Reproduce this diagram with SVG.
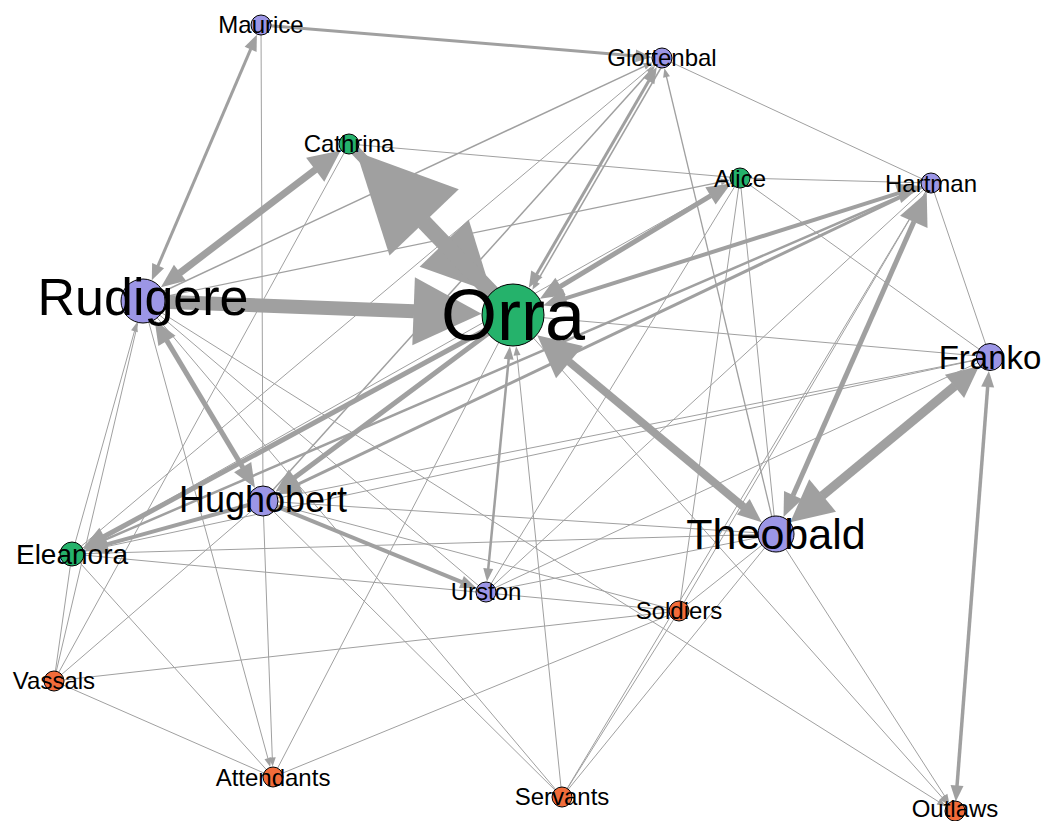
<svg xmlns="http://www.w3.org/2000/svg" width="1044" height="821" viewBox="0 0 1044 821">
<style>
.e line{stroke:#A0A0A0;fill:none;stroke-width:1}
.mk{fill:#A0A0A0;stroke:none}
.p{fill:#9C96E6;stroke:#000;stroke-width:1}
.g{fill:#25B26B;stroke:#000;stroke-width:1}
.o{fill:#F26C3A;stroke:#000;stroke-width:1}
.t{font-family:"Liberation Sans",Arial,sans-serif;text-anchor:middle;fill:#000}
</style>
<defs>
<marker id="m1" markerUnits="userSpaceOnUse" markerWidth="10" markerHeight="10" refX="0.5" refY="0" orient="auto-start-reverse" overflow="visible"><path class="mk" d="M0,-3.5 L9,0 L0,3.5 z"/></marker>
<marker id="m15" markerUnits="userSpaceOnUse" markerWidth="10" markerHeight="10" refX="0.5" refY="0" orient="auto-start-reverse" overflow="visible"><path class="mk" d="M0,-5 L13,0 L0,5 z"/></marker>
<marker id="m2" markerUnits="userSpaceOnUse" markerWidth="10" markerHeight="10" refX="0.5" refY="0" orient="auto-start-reverse" overflow="visible"><path class="mk" d="M0,-6.5 L16,0 L0,6.5 z"/></marker>
<marker id="m3" markerUnits="userSpaceOnUse" markerWidth="10" markerHeight="10" refX="0.5" refY="0" orient="auto-start-reverse" overflow="visible"><path class="mk" d="M0,-10 L24,0 L0,10 z"/></marker>
<marker id="m4" markerUnits="userSpaceOnUse" markerWidth="10" markerHeight="10" refX="0.5" refY="0" orient="auto-start-reverse" overflow="visible"><path class="mk" d="M0,-15 L32,0 L0,15 z"/></marker>
<marker id="m5" markerUnits="userSpaceOnUse" markerWidth="10" markerHeight="10" refX="0.5" refY="0" orient="auto-start-reverse" overflow="visible"><path class="mk" d="M0,-21 L42,0 L0,21 z"/></marker>
<marker id="m6" markerUnits="userSpaceOnUse" markerWidth="10" markerHeight="10" refX="0.5" refY="0" orient="auto-start-reverse" overflow="visible"><path class="mk" d="M0,-34 L68,0 L0,34 z"/></marker>
<marker id="m7" markerUnits="userSpaceOnUse" markerWidth="10" markerHeight="10" refX="0.5" refY="0" orient="auto-start-reverse" overflow="visible"><path class="mk" d="M0,-48 L98,0 L0,48 z"/></marker>
</defs>
<rect width="1044" height="821" fill="#fff"/>
<g id="edges" class="e">
<line x1="349" y1="144" x2="740" y2="178"/>
<line x1="740" y1="178" x2="931" y2="183"/>
<line x1="662" y1="58" x2="931" y2="183"/>
<line x1="72" y1="554" x2="662" y2="58"/>
<line x1="54" y1="681" x2="143" y2="301"/>
<line x1="143" y1="301" x2="486" y2="592"/>
<line x1="143" y1="301" x2="562" y2="797"/>
<line x1="263" y1="501" x2="562" y2="797"/>
<line x1="486" y1="592" x2="740" y2="178"/>
<line x1="486" y1="592" x2="931" y2="183"/>
<line x1="486" y1="592" x2="990" y2="357"/>
<line x1="486" y1="592" x2="776" y2="534"/>
<line x1="72" y1="554" x2="679" y2="611"/>
<line x1="263" y1="501" x2="990" y2="357"/>
<line x1="72" y1="554" x2="990" y2="357"/>
<line x1="72" y1="554" x2="776" y2="534"/>
<line x1="263" y1="501" x2="776" y2="534"/>
<line x1="263" y1="501" x2="679" y2="611"/>
<line x1="54" y1="681" x2="679" y2="611"/>
<line x1="54" y1="681" x2="72" y2="554"/>
<line x1="54" y1="681" x2="263" y2="501"/>
<line x1="54" y1="681" x2="349" y2="144"/>
<line x1="54" y1="681" x2="273" y2="777"/>
<line x1="72" y1="554" x2="273" y2="777"/>
<line x1="513" y1="315" x2="273" y2="777"/>
<line x1="273" y1="777" x2="679" y2="611"/>
<line x1="740" y1="178" x2="679" y2="611"/>
<line x1="740" y1="178" x2="776" y2="534"/>
<line x1="740" y1="178" x2="990" y2="357"/>
<line x1="740" y1="178" x2="72" y2="554"/>
<line x1="931" y1="183" x2="990" y2="357"/>
<line x1="679" y1="611" x2="776" y2="534"/>
<line x1="679" y1="611" x2="931" y2="183"/>
<line x1="562" y1="797" x2="679" y2="611"/>
<line x1="562" y1="797" x2="776" y2="534"/>
<line x1="562" y1="797" x2="931" y2="183"/>
<line x1="513" y1="315" x2="990" y2="357"/>
<line x1="261" y1="25" x2="263" y2="501"/>
<line x1="143" y1="301" x2="644.8" y2="66.1" style="stroke-width:1.5" marker-end="url(#m1)"/>
<line x1="143" y1="301" x2="721.4" y2="181.8" style="stroke-width:1.2" marker-end="url(#m1)"/>
<line x1="776" y1="534" x2="666.4" y2="76.5" style="stroke-width:1.3" marker-end="url(#m1)"/>
<line x1="263" y1="501" x2="649.3" y2="72.1" style="stroke-width:1.5" marker-end="url(#m1)"/>
<line x1="72" y1="554" x2="134.6" y2="330.8" marker-end="url(#m1)"/>
<line x1="143" y1="301" x2="268" y2="758.7" marker-end="url(#m1)"/>
<line x1="143" y1="301" x2="938.9" y2="801.9" marker-end="url(#m1)"/>
<line x1="263" y1="501" x2="272.3" y2="758" marker-end="url(#m1)"/>
<line x1="562" y1="797" x2="517" y2="354.8" marker-end="url(#m1)"/>
<line x1="776" y1="534" x2="944.7" y2="796" marker-end="url(#m1)"/>
<line x1="513" y1="315" x2="942.4" y2="797.8" marker-end="url(#m1)"/>
<line x1="665.5" y1="60" x2="536.6" y2="282.4" style="stroke-width:1.5" marker-end="url(#m1)"/>
<line x1="508.7" y1="358.8" x2="488.2" y2="569.1" style="stroke-width:2.5" marker-start="url(#m15)" marker-end="url(#m15)"/>
<line x1="931" y1="183" x2="97.7" y2="542.9" style="stroke-width:2.5" marker-end="url(#m2)"/>
<line x1="931" y1="183" x2="298.2" y2="484.2" style="stroke-width:3" marker-end="url(#m3)"/>
<line x1="263" y1="501" x2="461.9" y2="582.2" style="stroke-width:4" marker-end="url(#m2)"/>
<line x1="263" y1="501" x2="106.7" y2="544.4" style="stroke-width:4" marker-end="url(#m3)"/>
<line x1="513" y1="315" x2="103.7" y2="536.8" style="stroke-width:5" marker-end="url(#m3)"/>
<line x1="513" y1="315" x2="294.3" y2="477.7" style="stroke-width:5" marker-end="url(#m3)"/>
<line x1="166.7" y1="340.4" x2="242.9" y2="467.6" style="stroke-width:5" marker-start="url(#m3)" marker-end="url(#m3)"/>
<line x1="987.7" y1="386.4" x2="957" y2="786.1" style="stroke-width:3.5" marker-start="url(#m2)" marker-end="url(#m2)"/>
<line x1="261" y1="25" x2="636.1" y2="55.9" style="stroke-width:3" marker-end="url(#m2)"/>
<line x1="157.9" y1="266.1" x2="250.8" y2="48.9" style="stroke-width:3" marker-start="url(#m2)" marker-end="url(#m2)"/>
<line x1="536.6" y1="274.3" x2="649" y2="80.5" style="stroke-width:3" marker-start="url(#m2)" marker-end="url(#m2)"/>
<line x1="560.1" y1="286.6" x2="710.9" y2="195.6" style="stroke-width:5" marker-start="url(#m3)" marker-end="url(#m3)"/>
<line x1="565.5" y1="298.4" x2="898.6" y2="193.2" style="stroke-width:4" marker-start="url(#m3)" marker-end="url(#m3)"/>
<line x1="793" y1="495.6" x2="914" y2="221.4" style="stroke-width:5" marker-start="url(#m3)" marker-end="url(#m4)"/>
<line x1="822.2" y1="495.8" x2="954.9" y2="386" style="stroke-width:9" marker-start="url(#m5)" marker-end="url(#m4)"/>
<line x1="569.1" y1="361.7" x2="743.7" y2="507.1" style="stroke-width:8" marker-start="url(#m5)" marker-end="url(#m3)"/>
<line x1="179.6" y1="273.1" x2="315.6" y2="169.5" style="stroke-width:7" marker-start="url(#m3)" marker-end="url(#m4)"/>
<line x1="143" y1="301" x2="414.1" y2="311.3" style="stroke-width:14" marker-end="url(#m6)"/>
<line x1="349" y1="144" x2="444.5" y2="243.5" style="stroke-width:10" marker-end="url(#m6)"/>
<line x1="513" y1="315" x2="423.8" y2="222" style="stroke-width:16" marker-end="url(#m7)"/>
</g>
<g id="node-Maurice"><circle class="p" cx="261" cy="25" r="10"/><text class="t" x="261" y="33" font-size="24">Maurice</text></g>
<g id="node-Glottenbal"><circle class="p" cx="662" cy="58" r="10"/><text class="t" x="662" y="66" font-size="24">Glottenbal</text></g>
<g id="node-Cathrina"><circle class="g" cx="349" cy="144" r="10"/><text class="t" x="349" y="152" font-size="24">Cathrina</text></g>
<g id="node-Alice"><circle class="g" cx="740" cy="178" r="10"/><text class="t" x="740" y="187" font-size="24">Alice</text></g>
<g id="node-Hartman"><circle class="p" cx="931" cy="183" r="10"/><text class="t" x="931" y="192" font-size="24">Hartman</text></g>
<g id="node-Rudigere"><circle class="p" cx="143" cy="301" r="22"/><text class="t" x="143" y="315" font-size="52">Rudigere</text></g>
<g id="node-Orra"><circle class="g" cx="513" cy="315" r="31"/><text class="t" x="513" y="340" font-size="72">Orra</text></g>
<g id="node-Franko"><circle class="p" cx="990" cy="357" r="13.5"/><text class="t" x="990" y="369" font-size="33">Franko</text></g>
<g id="node-Hughobert"><circle class="p" cx="263" cy="501" r="15"/><text class="t" x="263" y="512" font-size="36">Hughobert</text></g>
<g id="node-Theobald"><circle class="p" cx="776" cy="534" r="18"/><text class="t" x="776" y="549" font-size="43">Theobald</text></g>
<g id="node-Eleanora"><circle class="g" cx="72" cy="554" r="12"/><text class="t" x="72" y="564" font-size="28">Eleanora</text></g>
<g id="node-Urston"><circle class="p" cx="486" cy="592" r="10"/><text class="t" x="486" y="600" font-size="24">Urston</text></g>
<g id="node-Soldiers"><circle class="o" cx="679" cy="611" r="10"/><text class="t" x="679" y="619" font-size="24">Soldiers</text></g>
<g id="node-Vassals"><circle class="o" cx="54" cy="681" r="10"/><text class="t" x="54" y="689" font-size="24">Vassals</text></g>
<g id="node-Attendants"><circle class="o" cx="273" cy="777" r="10"/><text class="t" x="273" y="786" font-size="24">Attendants</text></g>
<g id="node-Servants"><circle class="o" cx="562" cy="797" r="10"/><text class="t" x="562" y="805" font-size="24">Servants</text></g>
<g id="node-Outlaws"><circle class="o" cx="955" cy="811" r="10"/><text class="t" x="955" y="817" font-size="24">Outlaws</text></g>
</svg>
